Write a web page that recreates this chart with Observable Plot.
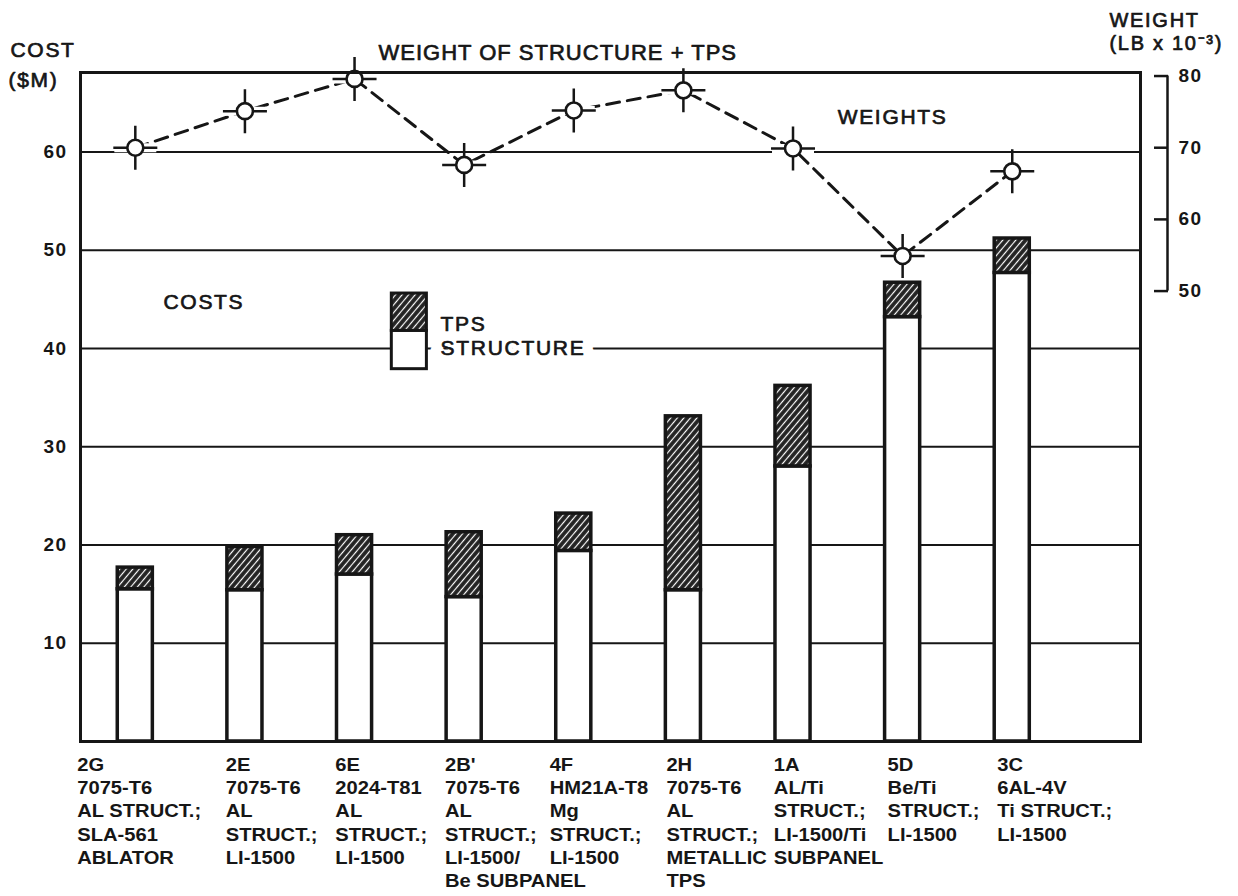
<!DOCTYPE html>
<html>
<head>
<meta charset="utf-8">
<script src="https://cdn.jsdelivr.net/npm/d3@7"></script>
<script src="https://cdn.jsdelivr.net/npm/@observablehq/plot@0.6"></script>
<style>
  body { margin: 0; background: #fff; }
  svg text { font-family: "Liberation Sans", Arial, sans-serif; letter-spacing: 1.7px; }
  svg g[font-size="22"] text { letter-spacing: 1px; }
  svg g[font-weight="bold"] text { letter-spacing: 1.4px; }
  svg g[font-size="18"] text { letter-spacing: 0px; }
</style>
</head>
<body>
<svg width="0" height="0" style="position:absolute">
  <defs>
    <pattern id="hatch" patternUnits="userSpaceOnUse" width="5" height="5" patternTransform="rotate(40)">
      <rect width="5" height="5" fill="#222"></rect>
      <line x1="2.5" y1="0" x2="2.5" y2="5" stroke="#fff" stroke-width="1.2"></line>
    </pattern>
  </defs>
</svg>
<div id="chart"></div>
<script>
// ---- data ----
const configs = ["2G", "2E", "6E", "2B'", "4F", "2H", "1A", "5D", "3C"];
const configLabels = [
  "2G\n7075-T6\nAL STRUCT.;\nSLA-561\nABLATOR",
  "2E\n7075-T6\nAL\nSTRUCT.;\nLI-1500",
  "6E\n2024-T81\nAL\nSTRUCT.;\nLI-1500",
  "2B'\n7075-T6\nAL\nSTRUCT.;\nLI-1500/\nBe SUBPANEL",
  "4F\nHM21A-T8\nMg\nSTRUCT.;\nLI-1500",
  "2H\n7075-T6\nAL\nSTRUCT.;\nMETALLIC\nTPS",
  "1A\nAL/Ti\nSTRUCT.;\nLI-1500/Ti\nSUBPANEL",
  "5D\nBe/Ti\nSTRUCT.;\nLI-1500",
  "3C\n6AL-4V\nTi STRUCT.;\nLI-1500"
];
const structureCost = [15.5, 15.4, 17.0, 14.7, 19.4, 15.4, 28.0, 43.2, 47.7]; // $M
const tpsCost       = [2.2, 4.4, 4.0, 6.6, 3.8, 17.7, 8.2, 3.5, 3.5];        // $M
const weights       = [70.0, 75.1, 79.6, 67.6, 75.2, 78.0, 69.9, 54.9, 66.7]; // lb x 10^-3
const costTicks   = [10, 20, 30, 40, 50, 60];
const weightTicks = [50, 60, 70, 80];

// weight axis mapped onto the cost scale (right-hand bracket axis)
const w2c = d3.scaleLinear([50, 80], [45.85, 67.74]);

const rows = configs.map((c, i) => ({
  i, config: c, label: configLabels[i],
  structure: structureCost[i],
  total: structureCost[i] + tpsCost[i],
  wy: w2c(weights[i])
}));

const half = 0.16;
const xMax = 9.17;
// typed label start, relative to the bar centre
const labelShift = c => c === "2G" ? -0.53 : c === "4F" ? -0.22 : c === "2H" ? -0.155
  : (c === "5D" || c === "3C") ? -0.137 : -0.175;

const cross = {draw(ctx, size) { const r = Math.sqrt(size / Math.PI);
  ctx.moveTo(-r, 0); ctx.lineTo(r, 0); ctx.moveTo(0, -r); ctx.lineTo(0, r); }};
const hbar = {draw(ctx, size) { const r = Math.sqrt(size / Math.PI);
  ctx.moveTo(-r, 0); ctx.lineTo(r, 0); }};

const ink = "#161616";
const thick = {fill: ink, stroke: ink, strokeWidth: 0.7};

const chart = Plot.plot({
  width: 1238, height: 896,
  marginTop: 72, marginLeft: 80, marginRight: 98, marginBottom: 155,
  style: {fontFamily: '"Liberation Sans", Arial, sans-serif', background: "white", color: ink},
  x: {domain: [-0.5, xMax], axis: null},
  y: {domain: [0, 68.1]},
  marks: [
    Plot.ruleY(costTicks, {stroke: ink, strokeWidth: 2}),
    // bars
    Plot.rectY(rows, {x1: d => d.i - half, x2: d => d.i + half, y1: 0, y2: "structure",
      fill: "white", stroke: ink, strokeWidth: 3.5}),
    Plot.rectY(rows, {x1: d => d.i - half, x2: d => d.i + half, y1: "structure", y2: "total",
      fill: "url(#hatch)", stroke: ink, strokeWidth: 3.5}),
    // legend
    Plot.text(["STRUCTURE"], {x: 2.785, y: 40, textAnchor: "start", fontSize: 21,
      fill: "white", stroke: "white", strokeWidth: 22}),
    Plot.text(["STRUCTURE"], {x: 2.785, y: 40, textAnchor: "start", fontSize: 21, ...thick}),
    Plot.text(["TPS"], {x: 2.785, y: 42.5, textAnchor: "start", fontSize: 21, ...thick}),
    Plot.rect([0], {x1: 2.5 - half, x2: 2.5 + half, y1: 37.9, y2: 41.8, fill: "white", stroke: ink, strokeWidth: 3}),
    Plot.rect([0], {x1: 2.5 - half, x2: 2.5 + half, y1: 41.8, y2: 45.6, fill: "url(#hatch)", stroke: ink, strokeWidth: 3}),
    // annotations inside the frame
    Plot.text(["COSTS"], {x: 0.257, y: 44.7, textAnchor: "start", fontSize: 21, ...thick}),
    Plot.text(["WEIGHTS"], {x: 6.407, y: 63.5, textAnchor: "start", fontSize: 21, ...thick}),
    // weight series
    Plot.line(rows, {x: "i", y: "wy", stroke: ink, strokeWidth: 3, strokeDasharray: "13,8"}),
    Plot.dot(rows, {x: "i", y: "wy", symbol: hbar, r: 21, stroke: "white", strokeWidth: 9}),
    Plot.dot(rows, {x: "i", y: "wy", symbol: cross, r: 22, stroke: ink, strokeWidth: 2.5}),
    Plot.dot(rows, {x: "i", y: "wy", r: 8, fill: "white", stroke: ink, strokeWidth: 2.6}),
    // frame
    Plot.frame({stroke: ink, strokeWidth: 3}),
    // left axis
    Plot.axisY(costTicks, {anchor: "left", tickSize: 0, tickPadding: 13, fontSize: 19,
      fontWeight: "bold", label: null, fill: ink}),
    // right weight axis (bracket)
    Plot.axisY(weightTicks.map(w2c), {anchor: "right", tickSize: 14, dx: 13, tickPadding: 11,
      tickFormat: d => Math.round(w2c.invert(d)), fontSize: 19, fontWeight: "bold",
      label: null, stroke: ink, strokeWidth: 2.5, fill: ink}),
    Plot.ruleX([xMax], {y1: w2c(50), y2: w2c(80), dx: 27, stroke: ink, strokeWidth: 2.5}),
    // category labels
    Plot.text(rows, {x: d => d.i + labelShift(d.config), y: 0, text: "label", dy: 13,
      lineAnchor: "top", textAnchor: "start", lineHeight: 1.29, fontSize: 18,
      fontWeight: "bold", fill: ink}),
    // titles in the margins
    Plot.text(["COST"], {frameAnchor: "top-left", dx: -70, dy: -22, lineAnchor: "middle", textAnchor: "start", fontSize: 21, ...thick}),
    Plot.text(["($M)"], {frameAnchor: "top-left", dx: -72, dy: 8, lineAnchor: "middle", textAnchor: "start", fontSize: 21, ...thick}),
    Plot.text(["WEIGHT OF STRUCTURE + TPS"], {frameAnchor: "top-left", dx: 298, dy: -20,
      lineAnchor: "middle", textAnchor: "start", fontSize: 22, ...thick}),
    Plot.text(["WEIGHT"], {frameAnchor: "top-right", dx: -31, dy: -52, lineAnchor: "middle", textAnchor: "start", fontSize: 20, ...thick}),
    Plot.text(["(LB x 10⁻³)"], {frameAnchor: "top-right", dx: -31, dy: -29, lineAnchor: "middle", textAnchor: "start", fontSize: 20, ...thick})
  ]
});
// the typed category labels are set in a slightly wide face: stretch them horizontally
d3.select(chart).selectAll('g[font-size="18"] text').attr("transform", function () {
  return (this.getAttribute("transform") || "") + " scale(1.12,1)";
});
document.getElementById("chart").appendChild(chart);
</script>
</body>
</html>
